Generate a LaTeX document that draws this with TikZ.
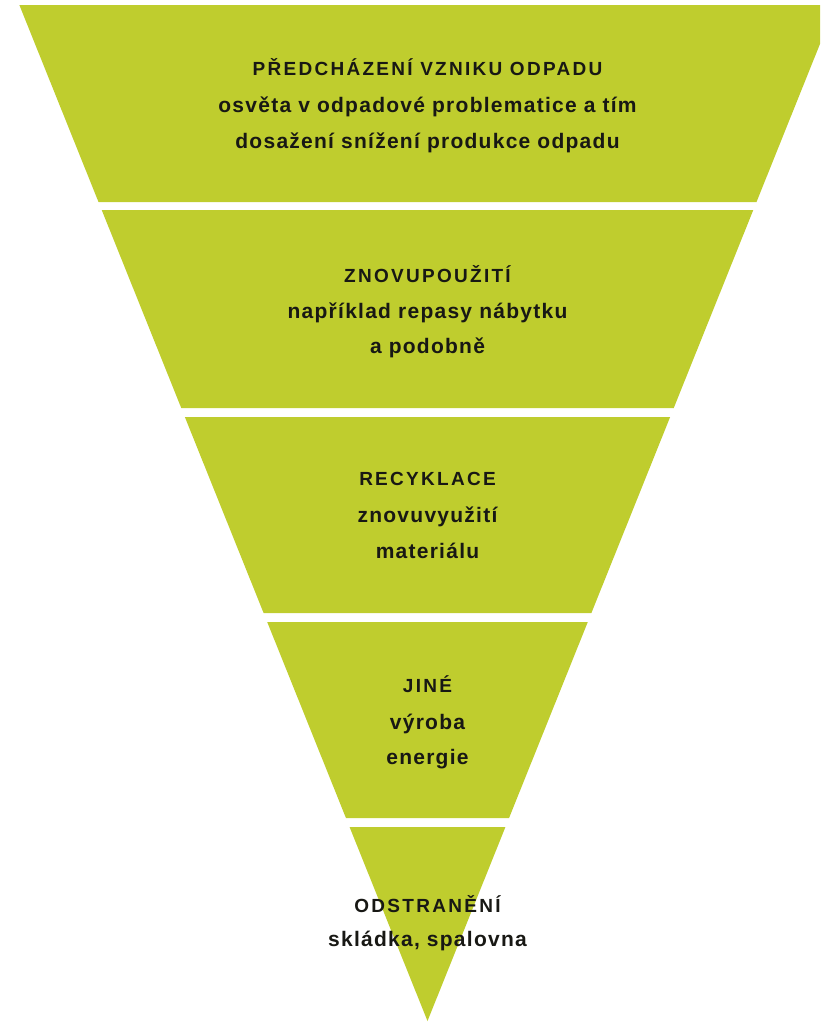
\documentclass[tikz,border=0pt]{standalone}
\usepackage{fontspec}
\newfontfamily\hdfont{Liberation Sans}[LetterSpace=12]
\newfontfamily\txfont{Liberation Sans}[LetterSpace=6]
\definecolor{lime}{RGB}{191,205,46}
\definecolor{ink}{RGB}{24,24,20}
\begin{document}
\begin{tikzpicture}[x=1pt,y=-1pt,
  hd/.style={anchor=base,inner sep=0pt,text=ink,font=\hdfont\bfseries\fontsize{19}{19}\selectfont},
  tx/.style={anchor=base,inner sep=0pt,text=ink,font=\txfont\bfseries\fontsize{21}{21}\selectfont}]
\useasboundingbox (0,0) rectangle (820,1023);
\def\cx{427.5}\def\ay{1021}\def\k{0.4017}
\begin{scope}
\clip (0,0) rectangle (820,1023);
\foreach \t/\b in {5/202,210/408,417/613,622/818,827/1021}{
  \fill[lime] ({\cx-\k*(\ay-\t)},\t) -- ({\cx+\k*(\ay-\t)},\t) -- ({\cx+\k*(\ay-\b)},\b) -- ({\cx-\k*(\ay-\b)},\b) -- cycle;
}
\end{scope}
\node[hd] (h1) at (\cx,75) {PŘEDCHÁZENÍ VZNIKU ODPADU};
\node[tx] (t1a) at (\cx,112) {osvěta v odpadové problematice a tím};
\node[tx] (t1b) at (\cx,148) {dosažení snížení produkce odpadu};
\node[hd] (h2) at (\cx,282) {ZNOVUPOUŽITÍ};
\node[tx] (t2a) at (\cx,318) {například repasy nábytku};
\node[tx] (t2b) at (\cx,353) {a podobně};
\node[hd] (h3) at (\cx,485) {RECYKLACE};
\node[tx] (t3a) at (\cx,522) {znovuvyužití};
\node[tx] (t3b) at (\cx,558) {materiálu};
\node[hd] (h4) at (\cx,692) {JINÉ};
\node[tx] (t4a) at (\cx,729) {výroba};
\node[tx] (t4b) at (\cx,764) {energie};
\node[hd] (h5) at (\cx,912) {ODSTRANĚNÍ};
\node[tx] (t5a) at (\cx,946) {skládka, spalovna};
\end{tikzpicture}
\end{document}
